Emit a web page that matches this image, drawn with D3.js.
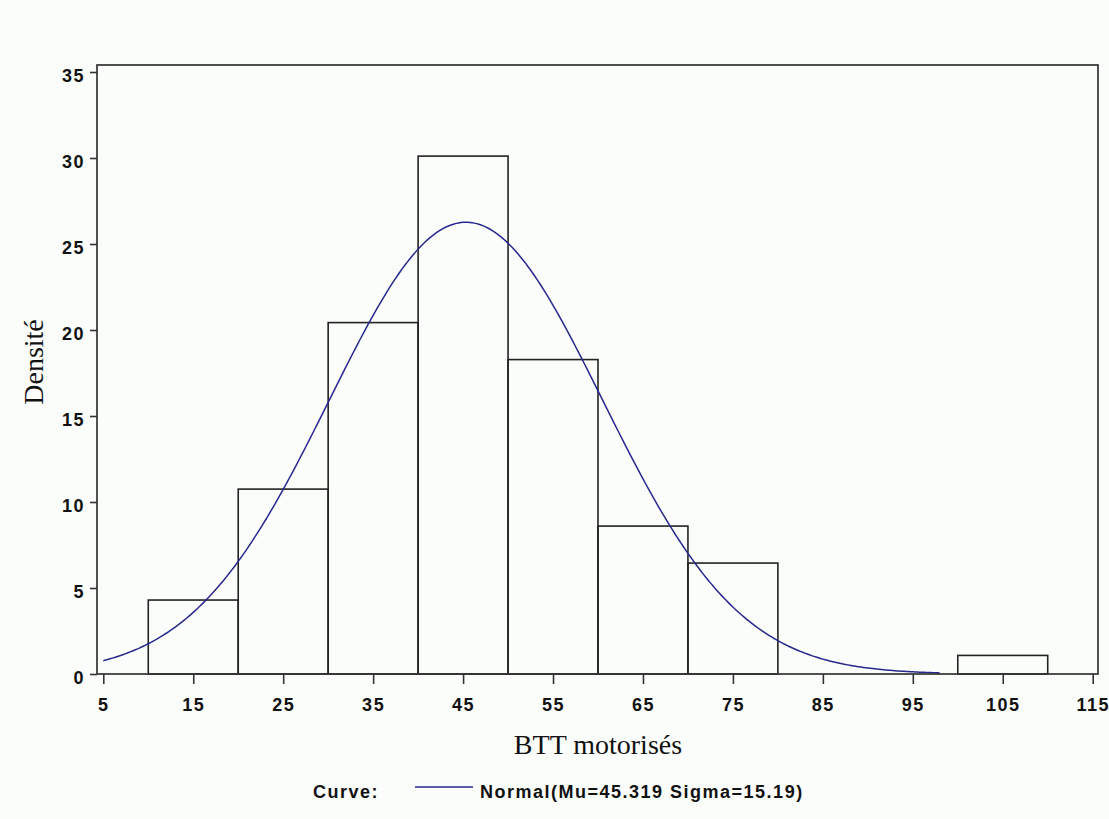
<!DOCTYPE html>
<html>
<head>
<meta charset="utf-8">
<script src="https://cdn.jsdelivr.net/npm/d3@7"></script>
<style>
  html, body { margin: 0; padding: 0; background: #fbfdfb; }
  svg { display: block; }
</style>
</head>
<body>
<script>
// ---- data ----
const binStarts = [10, 20, 30, 40, 50, 60, 70, 80, 90, 100];
const binWidth = 10;
const density = [4.30, 10.75, 20.43, 30.11, 18.28, 8.60, 6.45, 0, 0, 1.08];
const xTicks = [5, 15, 25, 35, 45, 55, 65, 75, 85, 95, 105, 115];
const yTicks = [0, 5, 10, 15, 20, 25, 30, 35];
const normalMu = 45.319;
const normalSigma = 15.19;
const curveRange = [5, 98];
const xLabel = "BTT motorisés";
const yLabel = "Densité";
const legendTitle = "Curve:";
const legendText = "Normal(Mu=45.319 Sigma=15.19)";

// ---- layout ----
const W = 1109, H = 819;
const frame = { left: 97, right: 1098, top: 65, bottom: 674 };

const svg = d3.select("body").append("svg").attr("width", W).attr("height", H);
svg.append("rect").attr("width", W).attr("height", H).attr("fill", "#fbfdfb");

const x = d3.scaleLinear().domain([5, 115]).range([103.3, 1092.7]);
const y = d3.scaleLinear().domain([0, 35]).range([674, 72]);

const tickFont = "'Liberation Sans', Arial, sans-serif";
const curveColor = "#28288c";

// bars
svg.append("g").selectAll("rect")
  .data(binStarts.map((s, i) => ({ s, v: density[i] })).filter(d => d.v > 0))
  .join("rect")
  .attr("x", d => x(d.s))
  .attr("y", d => y(d.v))
  .attr("width", d => x(d.s + binWidth) - x(d.s))
  .attr("height", d => y(0) - y(d.v))
  .attr("fill", "none")
  .attr("stroke", "#222")
  .attr("stroke-width", 1.6);

// normal curve (percent density scaled by bin width)
const pts = d3.range(curveRange[0], curveRange[1] + 0.001, 0.25).map(v => {
  const z = (v - normalMu) / normalSigma;
  const d = 100 * binWidth * Math.exp(-0.5 * z * z) / (normalSigma * Math.sqrt(2 * Math.PI));
  return [v, d];
});
svg.append("path")
  .datum(pts)
  .attr("d", d3.line().x(d => x(d[0])).y(d => y(d[1])))
  .attr("fill", "none")
  .attr("stroke", curveColor)
  .attr("stroke-width", 1.5);

// frame
svg.append("rect")
  .attr("x", frame.left).attr("y", frame.top)
  .attr("width", frame.right - frame.left)
  .attr("height", frame.bottom - frame.top)
  .attr("fill", "none")
  .attr("stroke", "#333")
  .attr("stroke-width", 1.7);

// x axis
const xAxis = d3.axisBottom(x).tickValues(xTicks).tickSize(10).tickPadding(14).tickSizeOuter(0);
const gx = svg.append("g").attr("transform", `translate(0,${frame.bottom})`).call(xAxis);
gx.select(".domain").remove();
gx.selectAll("line").attr("stroke", "#333").attr("stroke-width", 1.6);
gx.selectAll("text")
  .attr("font-family", tickFont).attr("font-weight", "bold").attr("font-size", 18)
  .attr("fill", "#111").attr("letter-spacing", 1.5).attr("dy", "0.71em");

// y axis
const yAxis = d3.axisLeft(y).tickValues(yTicks).tickSize(7).tickPadding(5).tickSizeOuter(0);
const gy = svg.append("g").attr("transform", `translate(${frame.left},0)`).call(yAxis);
gy.select(".domain").remove();
gy.selectAll("line").attr("stroke", "#333").attr("stroke-width", 1.6);
gy.selectAll("text")
  .attr("font-family", tickFont).attr("font-weight", "bold").attr("font-size", 18)
  .attr("fill", "#111").attr("letter-spacing", 1.5).attr("dy", "0.55em");

// axis labels
const serif = "'Liberation Serif', 'Times New Roman', serif";
svg.append("text")
  .attr("x", 598).attr("y", 754)
  .attr("text-anchor", "middle")
  .attr("font-family", serif).attr("font-size", 28).attr("fill", "#111")
  .text(xLabel);
svg.append("text")
  .attr("transform", "translate(43,362) rotate(-90)")
  .attr("text-anchor", "middle")
  .attr("font-family", serif).attr("font-size", 28).attr("fill", "#111")
  .text(yLabel);

// legend
const lg = svg.append("g");
lg.append("text")
  .attr("x", 313).attr("y", 798)
  .attr("font-family", tickFont).attr("font-weight", "bold").attr("font-size", 18)
  .attr("letter-spacing", 1.5).attr("fill", "#111")
  .text(legendTitle);
lg.append("line")
  .attr("x1", 415).attr("x2", 473).attr("y1", 787).attr("y2", 787)
  .attr("stroke", curveColor).attr("stroke-width", 1.5);
lg.append("text")
  .attr("x", 480).attr("y", 798)
  .attr("font-family", tickFont).attr("font-weight", "bold").attr("font-size", 18)
  .attr("letter-spacing", 1.5).attr("fill", "#111")
  .text(legendText);
</script>
</body>
</html>
